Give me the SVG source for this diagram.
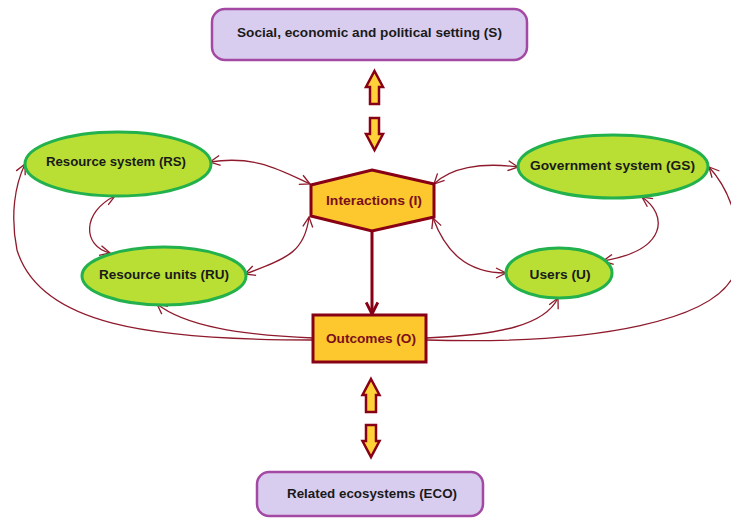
<svg xmlns="http://www.w3.org/2000/svg" width="731" height="518" viewBox="0 0 731 518">
<style>
.t{font-family:"Liberation Sans",Arial,sans-serif;font-weight:bold;font-size:13px;text-anchor:middle}
.dk{fill:#1a1a1a}
.rd{fill:#7a0f1c}
.setting{fill:#d9cdef;stroke:#a349a4;stroke-width:2.5}
.eco{fill:#b9df35;stroke:#22b14c;stroke-width:3}
.core{fill:#fdc82e;stroke:#880015;stroke-width:3}
.blk{fill:#ffd23a;stroke:#880015;stroke-width:2.5;stroke-linejoin:miter}
.c{fill:none;stroke:#8e1a2c;stroke-width:1.3}
</style>
<defs>
<marker id="a" viewBox="0 0 12 12" refX="11" refY="6" markerWidth="12" markerHeight="12" markerUnits="userSpaceOnUse" orient="auto-start-reverse">
<path d="M1,1 L11,6 L1,11" fill="none" stroke="#8e1a2c" stroke-width="1.3"/>
</marker>
<marker id="b" viewBox="0 0 12 12" refX="11" refY="6" markerWidth="14" markerHeight="14" markerUnits="userSpaceOnUse" orient="auto">
<path d="M1,1 L11,6 L1,11" fill="none" stroke="#880015" stroke-width="2.5"/>
</marker>
</defs>
<rect width="731" height="518" fill="#ffffff"/>

<g id="connectors">
<path class="c" d="M210,162 C255,155 280,170 310,184" marker-start="url(#a)" marker-end="url(#a)"/>
<path class="c" d="M245,274 C290,258 305,250 309,217" marker-start="url(#a)" marker-end="url(#a)"/>
<path class="c" d="M115,196 C82,212 82,246 110,253" marker-start="url(#a)" marker-end="url(#a)"/>
<path class="c" d="M313,340 C150,340 40,325 17,250 C10,215 15,185 25,164" marker-end="url(#a)"/>
<path class="c" d="M313,338 C240,335 185,326 157,304" marker-end="url(#a)"/>
<path class="c" d="M434,184 C450,168 480,162 518,167" marker-start="url(#a)" marker-end="url(#a)"/>
<path class="c" d="M433,218 C445,250 465,273 506,273" marker-start="url(#a)" marker-end="url(#a)"/>
<path class="c" d="M642,197 C668,215 668,250 603,261" marker-start="url(#a)" marker-end="url(#a)"/>
<path class="c" d="M426,338 C500,335 545,325 558,298" marker-end="url(#a)"/>
<path class="c" d="M426,340 C600,345 720,320 736,270 C745,230 730,190 709,167" marker-end="url(#a)"/>
<path d="M372,231 L372,314" fill="none" stroke="#880015" stroke-width="3" marker-end="url(#b)"/>
<polygon class="blk" points="374.5,71 383,87 379,87 379,104 370,104 370,87 366,87"/>
<polygon class="blk" points="370,118 379,118 379,134 383,134 374.5,150 366,134 370,134"/>
<polygon class="blk" points="371,379 379.5,395 376,395 376,412 366,412 366,395 362.5,395"/>
<polygon class="blk" points="366,425 376,425 376,441 379.5,441 371,457 362.5,441 366,441"/>
</g>

<g id="S">
<rect class="setting" x="212" y="9" width="315" height="51" rx="13"/>
<text class="t dk" x="369.5" y="37" textLength="265" lengthAdjust="spacingAndGlyphs">Social, economic and political setting (S)</text>
</g>

<g id="I">
<polygon class="core" points="372,170 434,184 434,217 372,231 311,216 311,185"/>
<text class="t rd" x="374" y="204.5" textLength="96" lengthAdjust="spacingAndGlyphs">Interactions (I)</text>
</g>

<g id="RS">
<ellipse class="eco" cx="118" cy="164" rx="93" ry="32"/>
<text class="t dk" x="116" y="166" textLength="140" lengthAdjust="spacingAndGlyphs">Resource system (RS)</text>
</g>

<g id="RU">
<ellipse class="eco" cx="164" cy="276" rx="82" ry="29"/>
<text class="t dk" x="164" y="279" textLength="130" lengthAdjust="spacingAndGlyphs">Resource units (RU)</text>
</g>

<g id="GS">
<ellipse class="eco" cx="613" cy="166.5" rx="95" ry="31.5"/>
<text class="t dk" x="612.5" y="169.5" textLength="165" lengthAdjust="spacingAndGlyphs">Government system (GS)</text>
</g>

<g id="U">
<ellipse class="eco" cx="559" cy="273" rx="53" ry="25"/>
<text class="t dk" x="560" y="279" textLength="61" lengthAdjust="spacingAndGlyphs">Users (U)</text>
</g>

<g id="O">
<rect class="core" x="313" y="315" width="113" height="47"/>
<text class="t rd" x="371" y="343" textLength="90" lengthAdjust="spacingAndGlyphs">Outcomes (O)</text>
</g>

<g id="ECO">
<rect class="setting" x="257" y="472" width="226" height="44" rx="12"/>
<text class="t dk" x="372" y="498" textLength="170" lengthAdjust="spacingAndGlyphs">Related ecosystems (ECO)</text>
</g>
</svg>
